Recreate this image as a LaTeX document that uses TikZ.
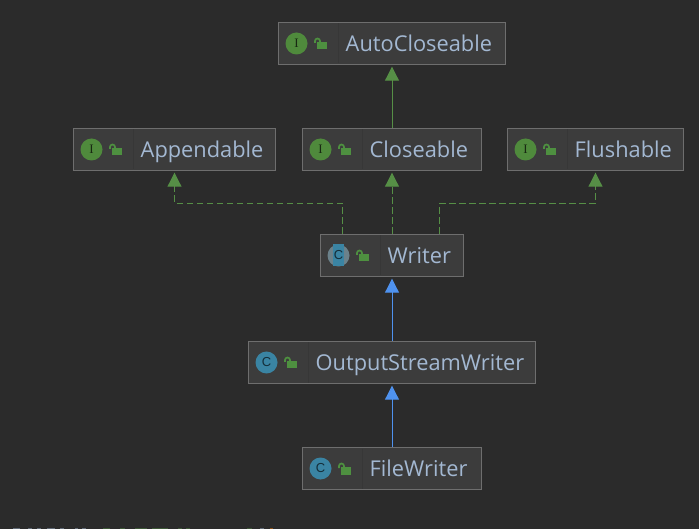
\documentclass[tikz,border=0pt]{standalone}
\usepackage{fontspec}
\setmainfont{Open Sans}
\usepackage{xcolor}
\usetikzlibrary{arrows.meta,positioning,calc}
\definecolor{canvasbg}{HTML}{2B2B2B}
\definecolor{boxfill}{HTML}{3C3C3C}
\definecolor{boxline}{HTML}{6E6E6E}
\definecolor{boxsep}{HTML}{373737}
\definecolor{labeltext}{HTML}{A3B8D2}
\definecolor{ifacegreen}{HTML}{4F8A3C}
\definecolor{classteal}{HTML}{3A84A3}
\definecolor{lockgreen}{HTML}{4E9040}
\definecolor{edgegreen}{HTML}{568F46}
\definecolor{edgeblue}{HTML}{4F92EE}
\tikzset{
    classbox/.style={draw=boxline,fill=boxfill,line width=1pt,anchor=west,inner sep=0pt,minimum height=42pt},
    classname/.style={text=labeltext,font=\fontsize{21.8pt}{24pt}\selectfont,anchor=base west,inner sep=0pt},
    iconletter/.style={circle,inner sep=0pt,minimum size=22pt,font=\fontsize{13pt}{14pt}\selectfont},
    implements/.style={edgegreen,line width=1pt,-{Triangle[length=14pt,width=14pt]},shorten >=1.7pt,transform canvas={xshift=0.5pt}},
    realizes/.style={implements,dash pattern=on 6.5pt off 3.5pt},
    extends/.style={edgeblue,line width=1pt,-{Triangle[length=14pt,width=14pt]},shorten >=1.7pt,transform canvas={xshift=0.5pt}}
}
% box, open lock and name; the round icon is added afterwards
\newcommand{\classbody}[5]{
    \node[classbox,minimum width=#4pt] (#1) at (#2,#3) {};
    \draw[boxsep] ([xshift=61pt,yshift=20pt]#1.west) -- ([xshift=61pt,yshift=-20pt]#1.west);
    \fill[lockgreen] ([xshift=39pt,yshift=1.8pt]#1.west) rectangle ([xshift=49pt,yshift=-6pt]#1.west);
    \draw[lockgreen,line width=1.7pt] ([xshift=37.5pt,yshift=0.5pt]#1.west) -- ([xshift=37.5pt,yshift=2.5pt]#1.west)
        arc (180:0:2.5pt) -- ++(0,-1pt);
    \node[classname] (#1-name) at ([xshift=68pt,yshift=-8pt]#1.west) {#5};
}
\newcommand{\ifaceicon}[1]{
    \node[iconletter,fill=ifacegreen,text=black!70!ifacegreen] (#1-icon) at ([xshift=19pt]#1.west) {\fontspec{Liberation Serif}I};
}
\newcommand{\classicon}[1]{
    \node[iconletter,fill=classteal,text=black!65!classteal] (#1-icon) at ([xshift=19pt]#1.west) {\fontspec{Liberation Sans}C};
}

\begin{document}
\begin{tikzpicture}[x=1pt,y=-1pt]
    \useasboundingbox[fill=canvasbg] (0,0) rectangle (699,529);

    % Interfaces
    \classbody{autocloseable}{277.5}{43.5}{227}{AutoCloseable}
    \ifaceicon{autocloseable}
    \classbody{appendable}{72.5}{149.5}{202}{Appendable}
    \ifaceicon{appendable}
    \classbody{closeable}{301.5}{149.5}{179}{Closeable}
    \ifaceicon{closeable}
    \classbody{flushable}{506.5}{149.5}{176}{Flushable}
    \ifaceicon{flushable}

    % Classes
    \classbody{writer}{319.5}{255.5}{143}{Writer}
    \begin{scope}[shift={(writer.west)}]
        \fill[gray!70!classteal] (19,0) circle (11);
        \fill[classteal] (13.5,-11) rectangle (24.5,11);
    \end{scope}
    \node[iconletter,minimum size=12pt,text=black!65!classteal] (writer-icon) at ([xshift=19pt]writer.west) {\fontspec{Liberation Sans}C};
    \classbody{outputstreamwriter}{247.5}{362.5}{287}{OutputStreamWriter}
    \classicon{outputstreamwriter}
    \classbody{filewriter}{301.5}{468.5}{179}{FileWriter}
    \classicon{filewriter}

    % Solid edges
    \draw[implements] (closeable.north) -- (autocloseable.south);
    \draw[extends] (outputstreamwriter.north) -- (writer.south);
    \draw[extends] (filewriter.north) -- (outputstreamwriter.south);

    % Dashed edges from Writer
    \coordinate (joinleft) at (342,203.5);
    \coordinate (joinright) at (439,203.5);
    \draw[realizes] (writer.north -| joinleft) -- (joinleft) -| (appendable.south);
    \draw[realizes] (writer.north) -- (closeable.south);
    \draw[realizes] (writer.north -| joinright) -- (joinright) -| (flushable.south);

    % Cut-off row along the lower edge
    \foreach \xa/\xb/\rowcolor in {13/20/labeltext,28/32/labeltext,37/41/labeltext,47/55/labeltext,60/64/labeltext,75/78/labeltext,
        82/86/labeltext,103/110/edgegreen,120/125/edgegreen,135/147/edgegreen,152/168/edgegreen,178/182/edgegreen,
        186/190/edgegreen,247/252/edgegreen,260/264/labeltext,270/273/orange}
        \fill[\rowcolor!45!canvasbg] (\xa,528.2) rectangle (\xb,529);
\end{tikzpicture}
\end{document}
